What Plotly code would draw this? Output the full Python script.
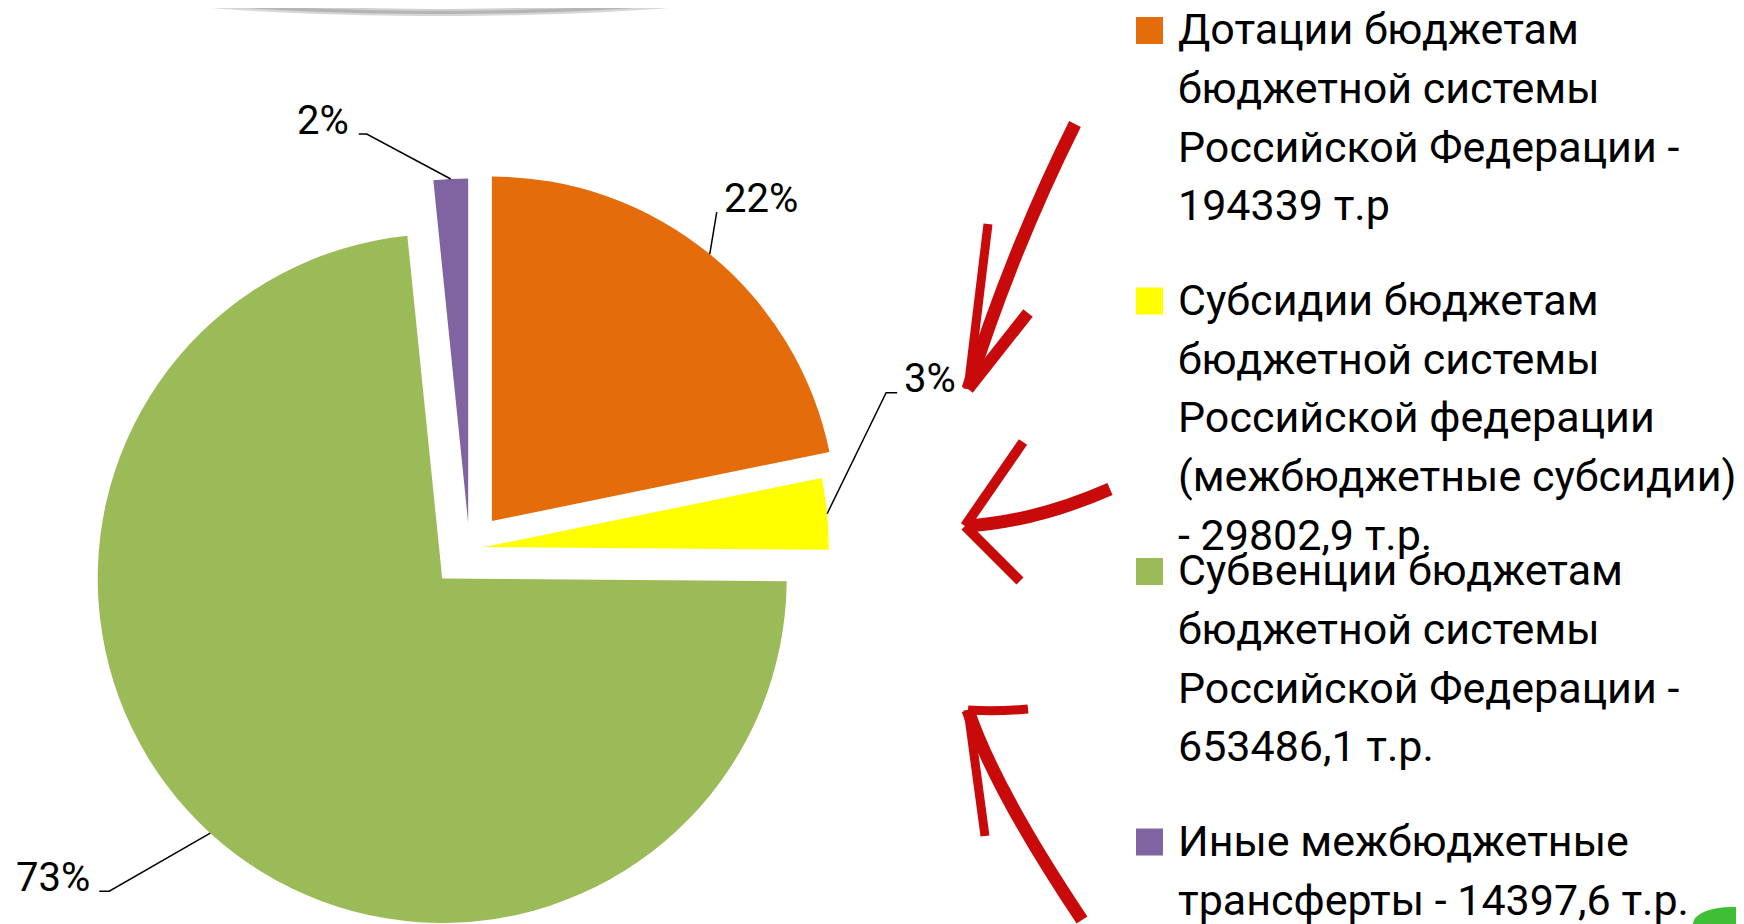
import math
import plotly.graph_objects as go

# ---------------- data ----------------
legend_lines = [
    ["Дотации бюджетам", "бюджетной системы", "Российской Федерации -", "194339 т.р"],
    ["Субсидии бюджетам", "бюджетной системы", "Российской федерации",
     "(межбюджетные субсидии)", "- 29802,9 т.р."],
    ["Субвенции бюджетам", "бюджетной системы", "Российской Федерации -", "653486,1 т.р."],
    ["Иные межбюджетные", "трансферты - 14397,6 т.р."],
]
values = [194339, 29802.9, 653486.1, 14397.6]
labels = [" ".join(lines) for lines in legend_lines]

# ---------------- styles ----------------
colors = ["#E46C0A", "#FFFF00", "#9BBB59", "#8064A2"]
pulls = [0.103, 0.043, 0.1176, 0.074]
FONT = "Roboto"
LEG_SIZE = 43
PCT_SIZE = 40

# The page places the figure 8px from the top-left corner; work in page pixels.
OFF = 8
W, H = 1744, 930

def px(x):
    return (x - OFF) / W

def py(y):
    return 1 - (y - OFF) / H

# pie geometry (page pixels)
R = 344.5
CX, CY = 469.5, 548.5
mp = max(pulls)
box = 2 * R * (1 + mp)
dom_x = [px(CX - box / 2), px(CX + box / 2)]
dom_y = [max(0.0, py(CY + box / 2)), min(1.0, py(CY - box / 2))]

fig = go.Figure()
fig.add_trace(go.Pie(
    labels=labels, values=values, sort=False, direction="clockwise", rotation=0,
    pull=pulls, marker=dict(colors=colors, line=dict(width=0)),
    textinfo="none", hoverinfo="label+value+percent", showlegend=False,
    domain=dict(x=dom_x, y=dom_y),
))

shapes = []
annotations = []

# ---- percent labels with leader lines, anchored at each slice's mid-angle ----
leader = [  # elbow offset from slice edge point, horizontal tick, gap to text
    dict(ex=7, ey=-42, tx=0, gap=5),
    dict(ex=59, ey=-121, tx=11, gap=5),
    dict(ex=-101, ey=58, tx=-10, gap=7),
    dict(ex=-84, ey=-45, tx=-8, gap=8),
]
total = sum(values)
start = 0.0
for v, p, st in zip(values, pulls, leader):
    frac = v / total
    mid = (start + frac / 2) * 2 * math.pi
    start += frac
    ux, uy = math.sin(mid), -math.cos(mid)
    ex_pt = CX + R * (1 + p) * ux
    ey_pt = CY + R * (1 + p) * uy
    elx, ely = ex_pt + st["ex"], ey_pt + st["ey"]
    tx_end = elx + st["tx"]
    path = f"M {px(ex_pt)} {py(ey_pt)} L {px(elx)} {py(ely)} L {px(tx_end)} {py(ely)}"
    shapes.append(dict(type="path", xref="paper", yref="paper", path=path,
                       line=dict(color="black", width=1.5)))
    right = st["ex"] > 0
    annotations.append(dict(
        xref="paper", yref="paper",
        x=px(tx_end + (st["gap"] if right else -st["gap"])),
        y=py(ely + 0.24 * PCT_SIZE + 2),
        xanchor="left" if right else "right", yanchor="bottom",
        text=f"{round(frac * 100)}%", showarrow=False,
        font=dict(family=FONT, size=PCT_SIZE, color="black"),
    ))

# ---- custom legend ----
LEG_SQ_X = (1136, 1163)
LEG_TOP0 = 17
LEG_STEP = 270.5
LINE_STEP = 58.7
TEXT_X = 1176
for k, lines in enumerate(legend_lines):
    top = LEG_TOP0 + LEG_STEP * k
    shapes.append(dict(type="rect", xref="paper", yref="paper",
                       x0=px(LEG_SQ_X[0]), x1=px(LEG_SQ_X[1]), y0=py(top + 27), y1=py(top),
                       fillcolor=colors[k], line=dict(width=0)))
    for i, line in enumerate(lines):
        base = top + 27 + LINE_STEP * i
        annotations.append(dict(
            xref="paper", yref="paper", x=px(TEXT_X), y=py(base + 0.24 * LEG_SIZE + 2),
            xanchor="left", yanchor="bottom", text=line, showarrow=False,
            font=dict(family=FONT, size=LEG_SIZE, color="black"),
        ))

# ---- decorations: hand-drawn red arrows ----
RED = "#C80A0A"
def pth(cmds):
    out = []
    for c in cmds:
        if c[0] in ("M", "L"):
            out.append(f"{c[0]} {px(c[1])} {py(c[2])}")
        elif c[0] == "Q":
            out.append(f"Q {px(c[1])} {py(c[2])} {px(c[3])} {py(c[4])}")
    return " ".join(out)

arrows = [
    ([("M", 1075, 124), ("Q", 1012, 250, 968, 389)], 13),
    ([("M", 988, 224), ("L", 968, 389)], 9),
    ([("M", 1028, 313), ("L", 968, 389)], 12),
    ([("M", 1110, 489), ("Q", 1035, 522, 965, 526)], 13),
    ([("M", 1023, 442), ("L", 965, 526)], 10),
    ([("M", 1020, 581), ("L", 965, 526)], 10),
    ([("M", 1082, 920), ("Q", 995, 790, 968, 710)], 13),
    ([("M", 1028, 709), ("Q", 995, 712, 968, 710)], 9),
    ([("M", 985, 836), ("L", 968, 710)], 9),
]
for cmds, wdt in arrows:
    shapes.append(dict(type="path", xref="paper", yref="paper", path=pth(cmds),
                       line=dict(color=RED, width=wdt)))

# ---- decorations: grey shadow at top and green blob bottom-right ----
for (x0, x1, yb, col) in [(60, 820, 16, "#D6D6D6"), (70, 810, 14, "#B4B4B4"),
                          (90, 790, 11, "#CFCFCF"), (110, 770, 9, "white")]:
    shapes.append(dict(type="circle", xref="paper", yref="paper", layer="below",
                       x0=px(x0), x1=px(x1), y0=py(yb), y1=py(yb - 80),
                       fillcolor=col, line=dict(width=0)))
shapes.append(dict(type="circle", xref="paper", yref="paper",
                   x0=px(1693), x1=px(1770), y0=py(940), y1=py(907),
                   fillcolor="#3FBF35", line=dict(width=0)))

fig.update_layout(
    width=W, height=H, margin=dict(l=0, r=0, t=0, b=0),
    paper_bgcolor="white", plot_bgcolor="white",
    showlegend=False, shapes=shapes, annotations=annotations,
    font=dict(family=FONT),
)

fig.write_html("out.html")
